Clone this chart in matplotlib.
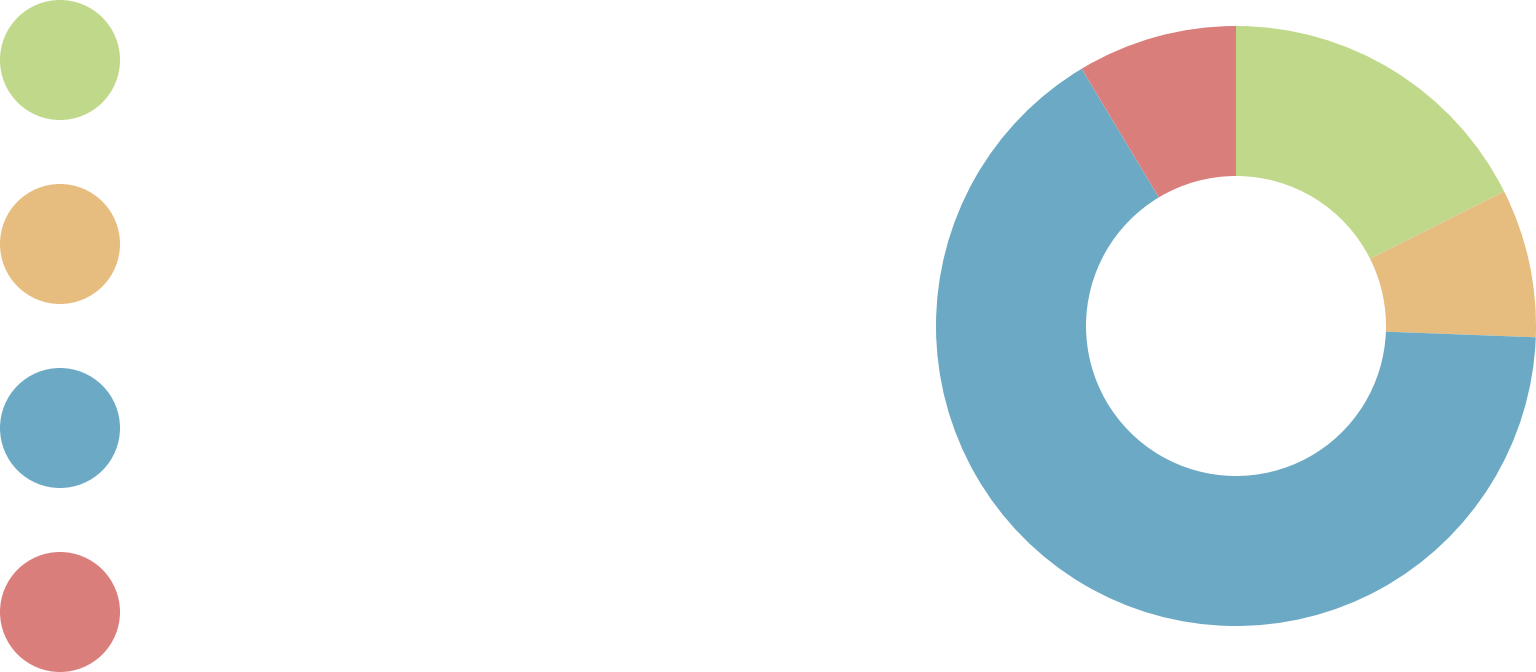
import matplotlib.pyplot as plt
from matplotlib.patches import Circle

# slice shares (percent), clockwise from 12 o'clock
labels = ["A", "B", "C", "D"]
values = [17.6, 8.0, 65.8, 8.6]
colors = ["#C0D889", "#E6BC7F", "#6CA9C4", "#DA7E7C"]

W, H = 1536, 672
fig = plt.figure(figsize=(W / 100, H / 100), dpi=100)
ax = fig.add_axes([0, 0, 1, 1])

ax.pie(values, colors=colors, startangle=90, counterclock=False,
       center=(1236, H - 326), radius=300,
       wedgeprops=dict(width=150, linewidth=0), frame=True)

# legend markers down the left side
for i, c in enumerate(colors):
    ax.add_patch(Circle((60, H - 60 - i * 184), 60, color=c, lw=0))

ax.set_xlim(0, W)
ax.set_ylim(0, H)
ax.set_aspect("equal")
ax.axis("off")

plt.savefig("out.png", dpi=100, facecolor="white")
